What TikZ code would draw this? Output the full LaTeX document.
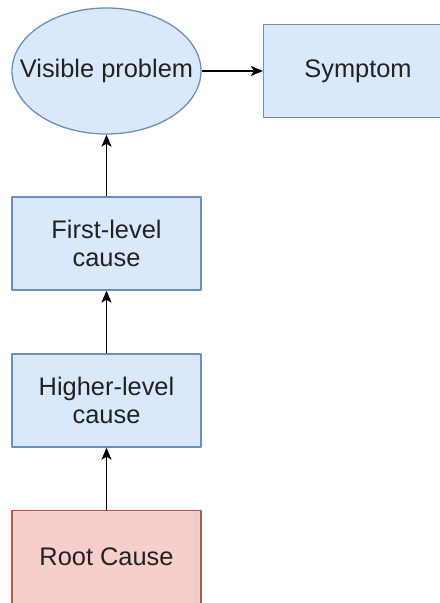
\documentclass[tikz,border=0pt]{standalone}
\usepackage{fontspec}
\setmainfont{Liberation Sans}
\usetikzlibrary{shapes.geometric,arrows.meta}
\definecolor{bluefill}{HTML}{DAE8FC}
\definecolor{blueline}{HTML}{6C8EBF}
\definecolor{redfill}{HTML}{F8CECC}
\definecolor{redline}{HTML}{B85450}
\definecolor{textgrey}{HTML}{222222}
\tikzset{
  causebox/.style={draw=blueline,fill=bluefill,line width=1.3bp,inner sep=0pt,
    minimum width=189bp,minimum height=93bp,align=center},
  rootbox/.style={causebox,draw=redline,fill=redfill},
}
\begin{document}
\begin{tikzpicture}[>={Stealth[length=12bp,width=10bp,inset=3bp]},line join=bevel,
  font=\fontsize{25.5}{28}\selectfont,text=textgrey]
\useasboundingbox (0bp,0bp) rectangle (440bp,603bp);
\clip (0bp,0bp) rectangle (440bp,603bp);
%%
\node (visible) at (106.5bp,532bp) [ellipse,draw=blueline,fill=bluefill,line width=1.3bp,inner xsep=-30bp,inner ysep=0pt,minimum width=189bp,minimum height=126bp] {Visible problem};
  \node (symptom) at (358bp,532bp) [causebox] {Symptom};
  \node (first) at (106.5bp,359.5bp) [causebox] {First-level\\cause};
  \node (higher) at (106.5bp,202.5bp) [causebox] {Higher-level\\cause};
  \node (root) at (106.5bp,46bp) [rootbox] {Root Cause};
  \draw [black,line width=1.5bp,->] (visible) -- (symptom);
  \draw [black,line width=1.5bp,->] (first) -- (visible);
  \draw [black,line width=1.5bp,->] (higher) -- (first);
  \draw [black,line width=1.5bp,->] (root) -- (higher);
%
\end{tikzpicture}
\end{document}
